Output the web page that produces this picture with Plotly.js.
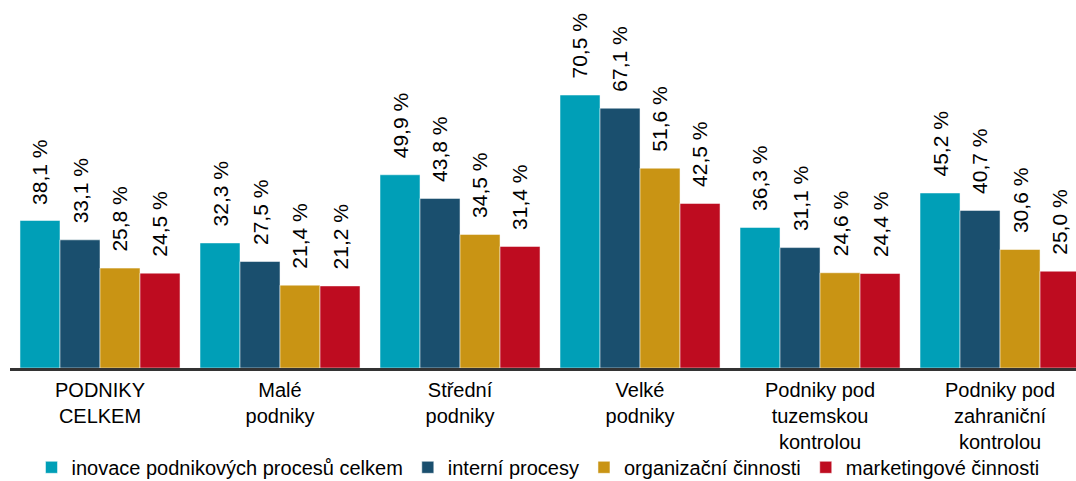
<!DOCTYPE html>
<html>
<head>
<meta charset="utf-8">
<script src="https://cdn.plot.ly/plotly-3.0.1.min.js"></script>
<style>
  html, body { margin: 0; padding: 0; background: #fff; }
  #chart { width: 1076px; height: 481px; }
</style>
</head>
<body>
<div id="chart"></div>
<script>
// Podíl podniků s inovacemi podnikových procesů (%)
const categories = [
    'PODNIKY<br>CELKEM',
    'Malé<br>podniky',
    'Střední<br>podniky',
    'Velké<br>podniky',
    'Podniky pod<br>tuzemskou<br>kontrolou',
    'Podniky pod<br>zahraniční<br>kontrolou'
];

const seriesNames = [
    'inovace podnikových procesů celkem',
    'interní procesy',
    'organizační činnosti',
    'marketingové činnosti'
];

const inovaceCelkem = [38.1, 32.3, 49.9, 70.5, 36.3, 45.2];
const interniProcesy = [33.1, 27.5, 43.8, 67.1, 31.1, 40.7];
const organizacniCinnosti = [25.8, 21.4, 34.5, 51.6, 24.6, 30.6];
const marketingoveCinnosti = [24.5, 21.2, 31.4, 42.5, 24.4, 25.0];

const seriesValues = [inovaceCelkem, interniProcesy, organizacniCinnosti, marketingoveCinnosti];
const seriesColors = ['#009fb7', '#1a4f6e', '#c99414', '#be0c20'];

const FONT = 'Liberation Sans, Arial, sans-serif';
const BARGAP = 0.111;

const fmt = v => v.toFixed(1).replace('.', ',') + ' %';

const xIdx = categories.map((_, i) => i);

const data = seriesValues.map((vals, s) => ({
    type: 'bar',
    name: seriesNames[s],
    x: xIdx,
    y: vals,
    marker: { color: seriesColors[s], line: { color: 'rgba(255,255,255,0.5)', width: 1 } },
    hoverinfo: 'skip'
}));

// value labels above bars, rotated
const groupWidth = 1 - BARGAP;
const annotations = [];
seriesValues.forEach((vals, s) => {
    vals.forEach((v, i) => {
        annotations.push({
            x: i + (s - 1.5) * groupWidth / seriesValues.length,
            y: v,
            xref: 'x', yref: 'y',
            text: fmt(v),
            textangle: -90,
            showarrow: false,
            xanchor: 'center',
            yanchor: 'bottom',
            yshift: 14,
            font: { family: FONT, size: 21, color: '#000' }
        });
    });
});

const layout = {
    width: 1076,
    height: 481,
    margin: { t: 0, r: 0, b: 113, l: 10 },
    paper_bgcolor: '#fff',
    plot_bgcolor: '#fff',
    barmode: 'group',
    bargap: BARGAP,
    bargroupgap: 0,
    font: { family: FONT, size: 20, color: '#000' },
    xaxis: {
        range: [-0.5, 5.422],
        tickvals: xIdx,
        ticktext: categories,
        showgrid: false,
        zeroline: false,
        showline: true,
        linecolor: '#333',
        linewidth: 3,
        ticks: '',
        ticklabelstandoff: 2,
        automargin: false,
        tickfont: { family: FONT, size: 20, color: '#000' }
    },
    yaxis: {
        range: [0, 95.04],
        visible: false,
        fixedrange: true
    },
    showlegend: true,
    legend: {
        orientation: 'h',
        xref: 'container', yref: 'container',
        x: 0.5, xanchor: 'center',
        y: 0.069, yanchor: 'top',
        bgcolor: 'rgba(0,0,0,0)',
        font: { family: FONT, size: 20, color: '#000' },
        itemwidth: 30,
        tracegroupgap: 0
    },
    annotations: annotations
};

Plotly.newPlot('chart', data, layout, { displayModeBar: false, staticPlot: true });
</script>
</body>
</html>
